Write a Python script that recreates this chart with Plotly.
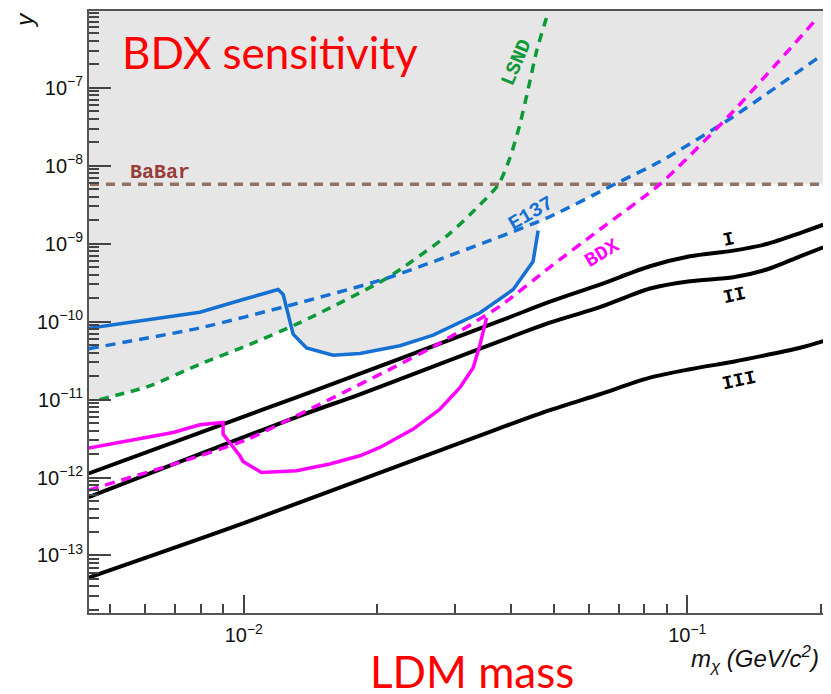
import numpy as np
import plotly.graph_objects as go

# ---------------- data ----------------
# Black theory lines I, II, III
m_I = [0.00447, 0.01, 0.01338, 0.0378, 0.049, 0.0635, 0.0824, 0.1014, 0.127, 0.151, 0.1796, 0.2026]
y_I = [1.13e-12, 6.05e-12, 1.11e-11, 1.02e-10, 1.8e-10, 2.99e-10, 5.13e-10, 6.89e-10, 8.15e-10, 9.9e-10, 1.37e-9, 1.75e-9]

m_II = [0.00447, 0.01338, 0.01827, 0.049, 0.0635, 0.0824, 0.1014, 0.127, 0.151, 0.1796, 0.2026]
y_II = [5.6e-13, 6.2e-12, 1.17e-11, 9.7e-11, 1.53e-10, 2.66e-10, 3.30e-10, 3.71e-10, 4.66e-10, 6.89e-10, 8.98e-10]

m_III = [0.00447, 0.01, 0.0378, 0.049, 0.0635, 0.0824, 0.1014, 0.127, 0.151, 0.1796, 0.2026]
y_III = [5.2e-14, 2.6e-13, 4.3e-12, 7.3e-12, 1.17e-11, 1.91e-11, 2.45e-11, 3.06e-11, 3.73e-11, 4.62e-11, 5.63e-11]

# BDX projected sensitivity (dashed) and BDX curve (solid)
m_bdx = [0.00447, 0.00717, 0.01014, 0.01483, 0.02172, 0.02767, 0.0378, 0.049, 0.0635, 0.0868, 0.1248, 0.1975]
y_bdx = [6.9e-13, 1.57e-12, 3.05e-12, 8.7e-12, 2.57e-11, 5.3e-11, 1.58e-10, 5.0e-10, 1.52e-9, 5.8e-9, 4.5e-8, 8.1e-7]

m_bdx_s = [0.00447, 0.00693, 0.00796, 0.00898, 0.00898, 0.00946, 0.0098, 0.00996, 0.01096, 0.01315, 0.01563,
           0.01827, 0.02027, 0.0241, 0.02767, 0.0307, 0.0329, 0.0341, 0.03528]
y_bdx_s = [2.39e-12, 3.78e-12, 4.74e-12, 5.08e-12, 3.6e-12, 2.43e-12, 1.9e-12, 1.61e-12, 1.16e-12, 1.22e-12, 1.49e-12,
           1.9e-12, 2.43e-12, 4.18e-12, 7.5e-12, 1.42e-11, 2.56e-11, 5.1e-11, 1.12e-10]

# E137 (dashed and solid)
m_e137 = [0.00447, 0.00796, 0.01291, 0.0210, 0.04818, 0.0705, 0.0868, 0.127, 0.196]
y_e137 = [4.5e-11, 8.3e-11, 1.66e-10, 3.6e-10, 2.13e-9, 6.27e-9, 1.13e-8, 4.26e-8, 2.37e-7]

m_e137_s = [0.00447, 0.00796, 0.00996, 0.01195, 0.01227, 0.01292, 0.01385, 0.0159, 0.01827, 0.0225,
            0.02673, 0.0341, 0.0405, 0.0423, 0.0449, 0.0461]
y_e137_s = [8.2e-11, 1.32e-10, 1.92e-10, 2.58e-10, 2.23e-10, 6.9e-11, 4.6e-11, 3.7e-11, 3.9e-11, 4.9e-11,
            6.7e-11, 1.30e-10, 2.58e-10, 3.63e-10, 5.9e-10, 1.47e-9]

# LSND
m_lsnd = [0.00473, 0.00614, 0.00796, 0.01032, 0.01338, 0.0210, 0.0289, 0.0329, 0.0375, 0.0398, 0.0419,
          0.0438, 0.0458, 0.0486]
y_lsnd = [1.0e-11, 1.50e-11, 2.84e-11, 5.1e-11, 9.7e-11, 3.6e-10, 1.30e-9, 2.59e-9, 5.7e-9, 1.25e-8, 3.33e-8,
          9.8e-8, 3.06e-7, 9.4e-7]

# BaBar
m_babar = [0.0045, 0.2]
y_babar = [5.8e-9, 5.8e-9]

# axes
x_range = [-2.349, -0.694]
y_range = [-13.738, -6.015]
x_major = [0.01, 0.1]
x_major_text = ["10<sup>\u22122</sup>", "10<sup>\u22121</sup>"]
y_major = [1e-13, 1e-12, 1e-11, 1e-10, 1e-9, 1e-8, 1e-7]
y_major_text = ["10<sup>\u2212%d</sup>" % k for k in [13, 12, 11, 10, 9, 8, 7]]
x_minor = [d * 10.0 ** e for e in [-3, -2, -1] for d in range(2, 10)]
y_minor = [d * 10.0 ** e for e in range(-15, -5) for d in range(2, 10)]

# ---------------- colours ----------------
BLUE = "#1470d2"
GREEN = "#0c9a38"
MAG = "#ff00ff"
BROWN = "#8f7262"
BROWN_TXT = "#983c3c"

# ---------------- excluded region envelope ----------------
lx = np.linspace(x_range[0], x_range[1], 800)


def interp_log(mx, my, fill_out=None):
    lmx = np.log10(mx)
    lmy = np.log10(my)
    v = np.interp(lx, lmx, lmy)
    if fill_out is not None:
        v = np.where((lx < lmx[0]) | (lx > lmx[-1]), fill_out, v)
    return v


env = np.minimum.reduce([
    interp_log(m_lsnd, y_lsnd),
    interp_log(m_e137, y_e137),
    interp_log(m_e137_s, y_e137_s, fill_out=99.0),
    interp_log(m_babar, y_babar),
])
top = y_range[1] + 0.5
fx = np.concatenate([10 ** lx, [10 ** x_range[1], 10 ** x_range[0]]])
fy = np.concatenate([10 ** env, [10 ** top, 10 ** top]])

fig = go.Figure()
fig.add_trace(go.Scatter(x=fx, y=fy, mode="lines", fill="toself", fillcolor="#e6e6e6",
                         line=dict(width=0), hoverinfo="skip"))

LW = 3.5
fig.add_trace(go.Scatter(x=m_babar, y=y_babar, mode="lines",
                         line=dict(color=BROWN, width=LW, dash="9px,7px")))
fig.add_trace(go.Scatter(x=m_lsnd, y=y_lsnd, mode="lines",
                         line=dict(color=GREEN, width=LW, dash="9px,7px", shape="spline", smoothing=0.6)))
fig.add_trace(go.Scatter(x=m_e137, y=y_e137, mode="lines",
                         line=dict(color=BLUE, width=LW, dash="10px,7px", shape="spline", smoothing=0.6)))
fig.add_trace(go.Scatter(x=m_e137_s, y=y_e137_s, mode="lines",
                         line=dict(color=BLUE, width=LW)))
for mx, my in [(m_I, y_I), (m_II, y_II), (m_III, y_III)]:
    fig.add_trace(go.Scatter(x=mx, y=my, mode="lines",
                             line=dict(color="black", width=4, shape="spline", smoothing=0.8)))
fig.add_trace(go.Scatter(x=m_bdx, y=y_bdx, mode="lines",
                         line=dict(color=MAG, width=LW, dash="10px,7px", shape="spline", smoothing=0.6)))
fig.add_trace(go.Scatter(x=m_bdx_s, y=y_bdx_s, mode="lines",
                         line=dict(color=MAG, width=LW)))

mono = "Liberation Mono"
ann = []


def lab(text, lxv, lyv, color, angle=0, size=20):
    ann.append(dict(text="<b>%s</b>" % text, x=lxv, y=lyv, xref="x", yref="y", showarrow=False,
                    textangle=angle, font=dict(family=mono, size=size, color=color),
                    xanchor="center", yanchor="middle"))


lab("BaBar", -2.1895, -8.09, BROWN_TXT, 0)
lab("LSND", -1.384, -6.68, GREEN, -67)
lab("E137", -1.3526, -8.612, BLUE, -30)
lab("BDX", -1.1924, -9.124, MAG, -31)
lab("I", -0.9075, -8.948, "black", -12, 19)
lab("II", -0.894, -9.665, "black", -12, 19)
lab("III", -0.8827, -10.761, "black", -12, 19)

ann.append(dict(text="BDX sensitivity", xref="paper", yref="paper", x=0.042, y=0.932,
                xanchor="left", yanchor="middle", showarrow=False,
                font=dict(family="Lato", size=44, color="#ff0000")))
ann.append(dict(text="LDM mass", xref="paper", yref="paper", x=0.380, y=-0.096,
                xanchor="left", yanchor="middle", showarrow=False,
                font=dict(family="Lato", size=44, color="#ff0000")))
ann.append(dict(text="<i>m<sub>\u03c7</sub> (GeV/c<sup>2</sup>)</i>", xref="paper", yref="paper",
                x=0.9973, y=-0.077, xanchor="right", yanchor="middle", showarrow=False,
                font=dict(family="Liberation Sans", size=24, color="#111111")))
ann.append(dict(text="<i>y</i>", xref="paper", yref="paper", x=-0.089, y=0.985,
                xanchor="center", yanchor="middle", showarrow=False, textangle=-90,
                font=dict(family="Liberation Sans", size=24, color="#111111")))

axis_common = dict(showline=True, linecolor="#555555", linewidth=2, mirror=True, showgrid=False,
                   zeroline=False, ticks="inside", tickcolor="#444444", tickwidth=1.5,
                   tickfont=dict(family="Liberation Sans", size=20, color="#111111"))

# the page body adds an 8px offset; the figure is sized so the plot lands where the reference has it
fig.update_layout(
    width=823, height=686,
    margin=dict(l=81.3, r=8, t=1, b=81.3),
    paper_bgcolor="white", plot_bgcolor="white",
    showlegend=False,
    annotations=ann,
    xaxis=dict(type="log", range=x_range, tickmode="array", tickvals=x_major, ticktext=x_major_text,
               ticklen=18, ticklabelstandoff=3,
               minor=dict(ticks="inside", ticklen=9, tickwidth=1.5, tickcolor="#444444",
                          tickmode="array", tickvals=x_minor, showgrid=False),
               **axis_common),
    yaxis=dict(type="log", range=y_range, tickmode="array", tickvals=y_major, ticktext=y_major_text,
               ticklen=22,
               minor=dict(ticks="inside", ticklen=10, tickwidth=1.5, tickcolor="#444444",
                          tickmode="array", tickvals=y_minor, showgrid=False),
               **axis_common),
)

fig.write_html("out.html")
